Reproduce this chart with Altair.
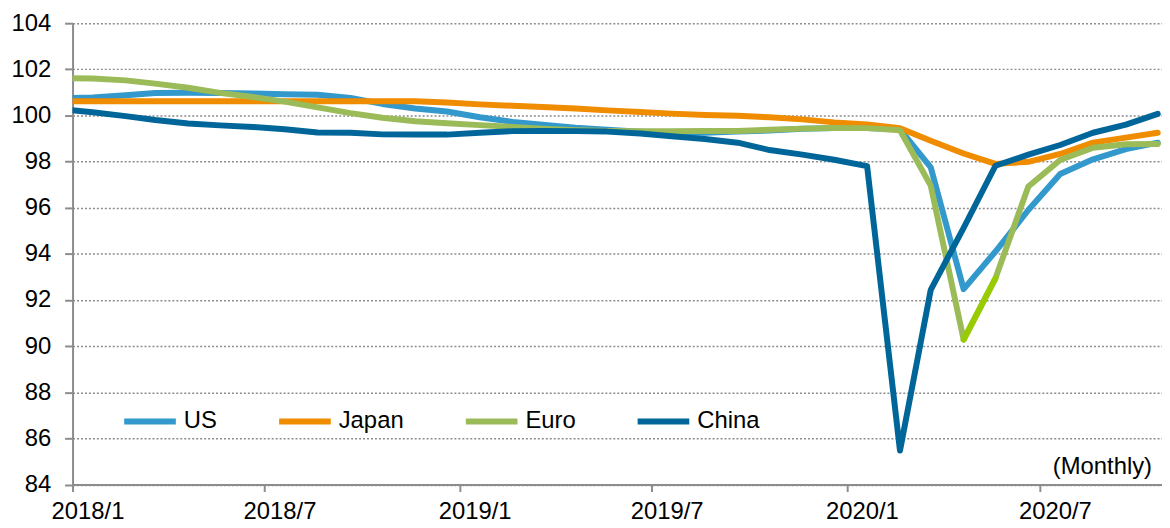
import altair as alt
import pandas as pd

months = ["2017/12",
          "2018/1", "2018/2", "2018/3", "2018/4", "2018/5", "2018/6",
          "2018/7", "2018/8", "2018/9", "2018/10", "2018/11", "2018/12",
          "2019/1", "2019/2", "2019/3", "2019/4", "2019/5", "2019/6",
          "2019/7", "2019/8", "2019/9", "2019/10", "2019/11", "2019/12",
          "2020/1", "2020/2", "2020/3", "2020/4", "2020/5", "2020/6",
          "2020/7", "2020/8", "2020/9", "2020/10"]

us = [100.75,
      100.78, 100.88, 100.97, 100.98, 100.97, 100.95,
      100.92, 100.90, 100.76, 100.50, 100.30, 100.17,
      99.92, 99.72, 99.60, 99.47, 99.38, 99.30,
      99.25, 99.25, 99.30, 99.35, 99.42, 99.45,
      99.45, 99.40, 97.75, 92.47, 94.10, 95.90,
      97.46, 98.10, 98.54, 98.82]

japan = [100.62,
         100.62, 100.62, 100.62, 100.62, 100.62, 100.62,
         100.62, 100.62, 100.62, 100.62, 100.62, 100.56,
         100.48, 100.42, 100.37, 100.30, 100.22, 100.15,
         100.08, 100.02, 99.99, 99.92, 99.83, 99.70,
         99.61, 99.45, 98.90, 98.35, 97.90, 97.99,
         98.33, 98.82, 99.04, 99.25]

euro = [101.62,
        101.60, 101.52, 101.38, 101.20, 100.98, 100.80,
        100.60, 100.35, 100.10, 99.90, 99.75, 99.66,
        99.58, 99.50, 99.42, 99.36, 99.33, 99.32,
        99.32, 99.33, 99.33, 99.38, 99.43, 99.46,
        99.45, 99.36, 96.96, 90.28, 92.94, 96.92,
        98.07, 98.60, 98.75, 98.76]

china = [100.28,
         100.14, 99.97, 99.80, 99.65, 99.57, 99.50,
         99.40, 99.26, 99.25, 99.18, 99.17, 99.17,
         99.25, 99.32, 99.33, 99.32, 99.30, 99.22,
         99.10, 98.98, 98.82, 98.50, 98.30, 98.08,
         97.80, 85.47, 92.44, 95.13, 97.82, 98.30,
         98.72, 99.25, 99.60, 100.07]

series_names = ["US", "Japan", "Euro", "China"]
series_colors = ["#3399CC", "#F08C00", "#9BBB59", "#006699"]

highlight_months = ["2020/4", "2020/5"]
highlight_color = "#99CC00"

y_ticks = [84, 86, 88, 90, 92, 94, 96, 98, 100, 102, 104]
x_tick_months = ["2018/1", "2018/7", "2019/1", "2019/7", "2020/1", "2020/7"]
note_text = "(Monthly)"

FONT = "Liberation Sans"
FS = 24


def point_date(m):
    y, mo = m.split("/")
    return f"{y}-{int(mo):02d}-20T00:00:00"


def dt(m):
    y, mo = m.split("/")
    return alt.DateTime(year=int(y), month=int(mo), date=1)


rows = []
for name, vals in zip(series_names, [us, japan, euro, china]):
    for m, v in zip(months, vals):
        rows.append({"date": point_date(m), "series": name, "value": v})
df = pd.DataFrame(rows)

hl = pd.DataFrame([{"date": point_date(m), "value": euro[months.index(m)]}
                   for m in highlight_months])

x_scale = alt.Scale(domain=[alt.DateTime(year=2018, month=1, date=1),
                            alt.DateTime(year=2020, month=10, date=24)])
y_scale = alt.Scale(domain=[84, 104], nice=False, zero=False)

x_axis = alt.Axis(values=[dt(m) for m in x_tick_months], format="%Y/%-m",
                  title=None, grid=False, labelOffset=15, labelFlush=False,
                  labelOverlap=False, tickSize=7, tickWidth=2, tickColor="#8c8c8c",
                  domainColor="#8c8c8c", domainWidth=2, labelPadding=8,
                  labelFontSize=FS, labelFont=FONT, labelColor="#000000")
y_axis = alt.Axis(values=y_ticks, title=None, grid=True, gridDash=[2, 2],
                  gridColor="#8c8c8c", gridWidth=1.5, tickSize=8, tickWidth=2,
                  tickColor="#8c8c8c", domainColor="#8c8c8c", domainWidth=2,
                  labelPadding=14, labelFontSize=FS, labelFont=FONT,
                  labelColor="#000000")

lines = alt.Chart(df).mark_line(strokeWidth=6, clip=True, strokeJoin="round",
                                strokeCap="round").encode(
    x=alt.X("date:T", scale=x_scale, axis=x_axis),
    y=alt.Y("value:Q", scale=y_scale, axis=y_axis),
    color=alt.Color("series:N", sort=series_names,
                    scale=alt.Scale(domain=series_names, range=series_colors),
                    legend=alt.Legend(orient="none", legendX=49, legendY=372,
                                      direction="horizontal", columns=4,
                                      columnPadding=50, symbolType="stroke",
                                      symbolSize=2704, symbolStrokeWidth=6,
                                      labelFontSize=FS, labelFont=FONT,
                                      labelColor="#000000", labelOffset=5,
                                      title=None, padding=0)),
)

highlight = alt.Chart(hl).mark_line(strokeWidth=6, clip=True, strokeCap="round",
                                    color=highlight_color).encode(
    x=alt.X("date:T", scale=x_scale),
    y=alt.Y("value:Q", scale=y_scale),
)

note = alt.Chart(pd.DataFrame({"t": [note_text]})).mark_text(
    align="right", baseline="middle", fontSize=FS, font=FONT, color="#000000"
).encode(text="t:N", x=alt.value(1087), y=alt.value(447))

chart = alt.layer(lines, highlight, note).properties(
    width=1097, height=464.5,
    autosize=alt.AutoSizeParams(type="none"),
    padding={"left": 65, "top": 13.5, "right": 0, "bottom": 42},
).configure_view(stroke=None)

chart.save("out.html", embed_options={"renderer": "svg", "actions": False})
